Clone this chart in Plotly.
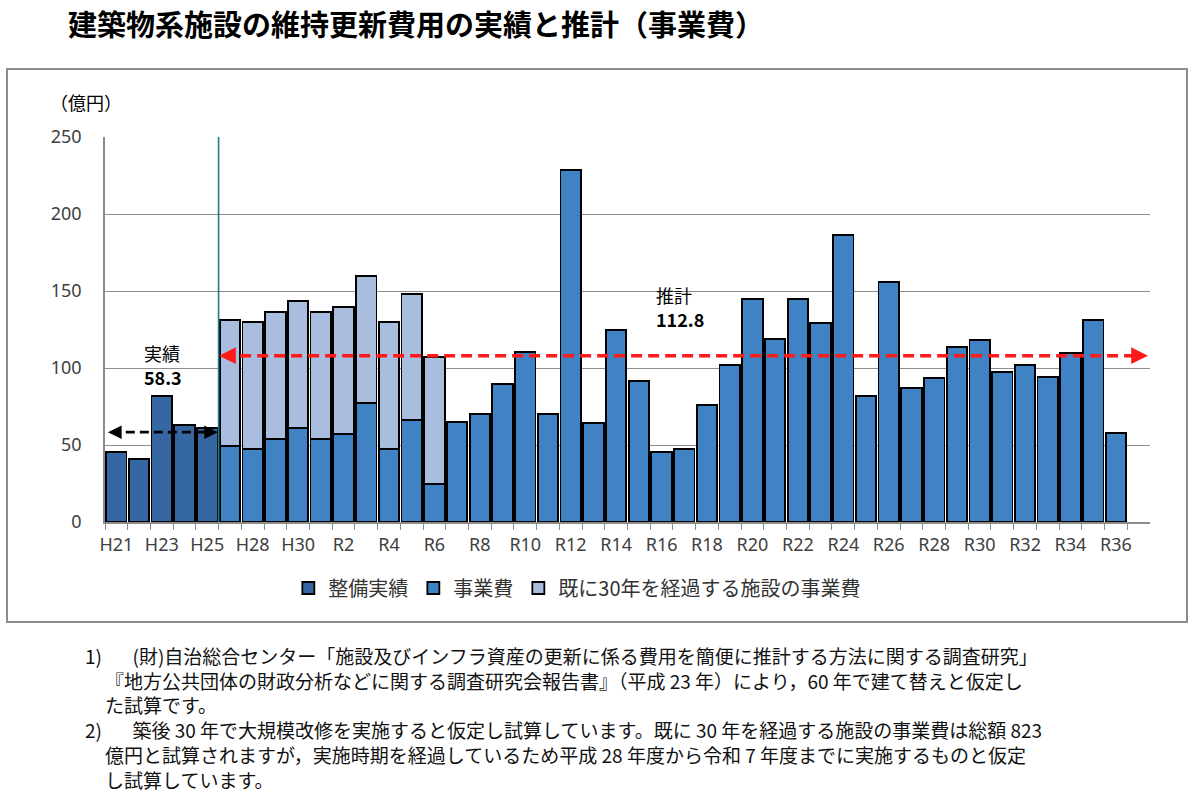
import plotly.graph_objects as go

# categories (fiscal years) as labelled on the chart
categories = ['H21', 'H22', 'H23', 'H24', 'H25', 'H27', 'H28', 'H29', 'H30'] + \
             ['R%d' % n for n in range(1, 37)]

# 整備実績 (H21-H25), 億円
actual = [45.5, 41.1, 81.6, 62.8, 61.0]

# 事業費 (H27-R36), 億円
projected = [49.1, 47.4, 53.9, 61.0, 53.9, 57.4, 77.5, 47.4, 66.0, 24.7,
             64.9, 70.1, 89.6, 110.6, 70.1, 228.8, 64.1, 124.9, 91.8, 45.2,
             47.4, 76.2, 102.2, 145.0, 119.0, 145.0, 129.4, 186.6, 82.0, 155.6,
             86.8, 93.5, 113.4, 118.2, 97.6, 102.2, 94.2, 109.7, 131.0, 58.0]

# 既に30年を経過する施設の事業費 (stacked on the first 10 projected years)
over30 = [82.3, 82.3, 82.3, 82.3, 82.3, 82.3, 82.3, 82.3, 82.3, 82.3]

# average labels and the levels of the dashed arrows
avg_actual = '58.3'
avg_projected = '112.8'
actual_arrow_y = 58.3
projected_arrow_y = 108.0

dark = '#3567a2'
mid = '#3f83c5'
light = '#a9bedf'
font_jp = 'Noto Sans CJK JP'

# plot area in pixels (page is 1200x802)
L, R, T, B = 105, 1150, 137, 522


def px(x):
    return (x - L) / (R - L)


def py(y):
    return (B - y) / (B - T)


fig = go.Figure()

fig.add_trace(go.Bar(x=categories[:5], y=actual, name='整備実績',
                     marker=dict(color=dark, line=dict(color='black', width=1.8))))
fig.add_trace(go.Bar(x=categories[5:], y=projected, name='事業費',
                     marker=dict(color=mid, line=dict(color='black', width=1.8))))
fig.add_trace(go.Bar(x=categories[5:15], y=over30, name='既に30年を経過する施設の事業費',
                     marker=dict(color=light, line=dict(color='black', width=1.8))))

# tick labels on every other year, tick marks on every boundary
ticktext = [c if i % 2 == 0 else '' for i, c in enumerate(categories)]

fig.update_layout(
    width=1200, height=802,
    margin=dict(l=L, r=1200 - R, t=T, b=802 - B),
    paper_bgcolor='white', plot_bgcolor='white',
    barmode='stack', bargap=0.1,
    font=dict(family=font_jp, color='#333333'),
    showlegend=True,
    legend=dict(orientation='h', x=0.452, xanchor='center', y=py(588), yanchor='middle',
                font=dict(family=font_jp, size=20, color='#333333'),
                traceorder='normal'),
    xaxis=dict(type='category', categoryorder='array', categoryarray=categories,
               tickvals=categories, ticktext=ticktext, tickson='boundaries',
               ticks='outside', ticklen=6, tickcolor='#8c8c8c', tickangle=0,
               range=[-0.5, len(categories) + 0.5],
               showline=True, linecolor='#8c8c8c', linewidth=1.5,
               showgrid=False, ticklabelstandoff=6,
               tickfont=dict(family='Noto Sans', size=18, color='#404040')),
    yaxis=dict(range=[0, 250], dtick=50, showgrid=True, gridcolor='#8c8c8c', gridwidth=1.2,
               showline=True, linecolor='#8c8c8c', linewidth=1.5,
               zeroline=False, ticks='', ticklabelstandoff=18,
               tickfont=dict(family='Noto Sans', size=18, color='#404040')),
)

# outer frame around the chart
fig.add_shape(type='rect', xref='paper', yref='paper',
              x0=px(7), x1=px(1187), y0=py(622), y1=py(69),
              line=dict(color='#8c8c8c', width=2), layer='below')

# boundary between actual and projected
fig.add_shape(type='line', xref='x', yref='y', x0=4.5, x1=4.5, y0=0, y1=250,
              line=dict(color='#237a8a', width=1.6))

# dashed average lines
fig.add_shape(type='line', xref='x', yref='y', x0=-0.2, x1=4.3,
              y0=actual_arrow_y, y1=actual_arrow_y,
              line=dict(color='black', width=2.8, dash='9px,5px'))
fig.add_shape(type='line', xref='x', yref='y', x0=4.7, x1=45.2,
              y0=projected_arrow_y, y1=projected_arrow_y,
              line=dict(color='#ff1a1a', width=3.6, dash='11px,6px'))

# arrow heads
for head, tail, yv, col, w in [(-0.37, 0.1, actual_arrow_y, 'black', 2.6),
                               (4.47, 4.0, actual_arrow_y, 'black', 2.6),
                               (4.52, 5.0, projected_arrow_y, '#ff1a1a', 3.2),
                               (45.41, 44.9, projected_arrow_y, '#ff1a1a', 3.2)]:
    fig.add_annotation(x=head, y=yv, ax=tail, ay=yv, xref='x', yref='y',
                       axref='x', ayref='y', text='', showarrow=True,
                       arrowhead=2, arrowsize=1.05, arrowwidth=w, arrowcolor=col,
                       standoff=0, startstandoff=0)

# text labels
texts = [
    ('<b>建築物系施設の維持更新費用の実績と推計（事業費）</b>', 66, 23, 29),
    ('（億円）', 48, 102, 18),
    ('実績', 142, 353, 18),
    ('<b>' + avg_actual + '</b>', 142, 377, 18),
    ('推計', 654, 295, 18),
    ('<b>' + avg_projected + '</b>', 654, 319, 18),
]
for txt, x, y, size in texts:
    fig.add_annotation(text=txt, x=px(x), y=py(y), xref='paper', yref='paper',
                       xanchor='left', yanchor='middle', showarrow=False,
                       font=dict(family=font_jp, size=size, color='black'))

# footnotes: numbers in one column, text block with line breaks
note_nums = '1)<br><br><br>2)'
note_lines = [
    '\u3000\u00a0\u00a0(財)自治総合センター「施設及びインフラ資産の更新に係る費用を簡便に推計する方法に関する調査研究」',
    '『地方公共団体の財政分析などに関する調査研究会報告書』（平成 23 年）により，60 年で建て替えと仮定し',
    'た試算です。',
    '\u3000\u00a0\u00a0築後 30 年で大規模改修を実施すると仮定し試算しています。既に 30 年を経過する施設の事業費は総額 823',
    '億円と試算されますが，実施時期を経過しているため平成 28 年度から令和 7 年度までに実施するものと仮定',
    'し試算しています。',
]
fig.add_annotation(text=note_nums, x=px(83), y=py(640), xref='paper', yref='paper',
                   xanchor='left', yanchor='top', align='left', showarrow=False,
                   font=dict(family=font_jp, size=19, color='#111111'))
fig.add_annotation(text='<br>'.join(note_lines), x=px(103), y=py(640),
                   xref='paper', yref='paper', xanchor='left', yanchor='top',
                   align='left', showarrow=False,
                   font=dict(family=font_jp, size=19, color='#111111'))

fig.write_html("out.html", post_script="document.body.style.margin='0';",
               config={'displayModeBar': False})
